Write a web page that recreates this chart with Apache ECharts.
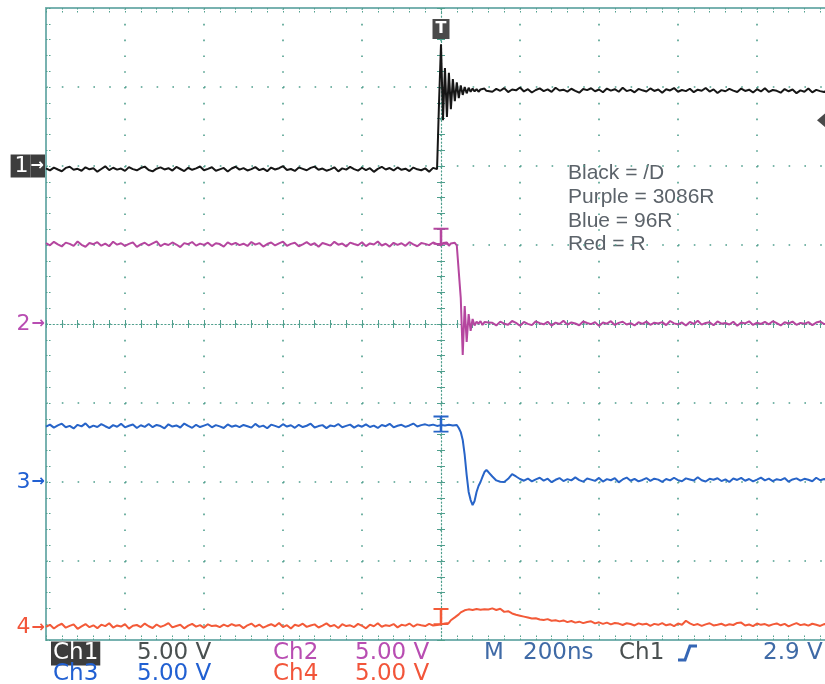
<!DOCTYPE html>
<html>
<head>
<meta charset="utf-8">
<script src="https://cdn.jsdelivr.net/npm/echarts@6/dist/echarts.min.js"></script>
<style>
  html, body { margin: 0; padding: 0; background: #ffffff; overflow: hidden; width: 825px; height: 684px; }
  /* the graticule is 10 divisions wide; the screen shows a little less than that */
  #main { width: 836px; height: 684px; }
</style>
</head>
<body>
<div id="main"></div>
<script>
// ---- Acquisition: sample times in ns (trigger at 0) and channel voltages ----
const timeNs = [
  -1000, -990, -980, -970, -960, -950, -940, -930, -920, -910,
  -900, -890, -880, -870, -860, -850, -840, -830, -820, -810,
  -800, -790, -780, -770, -760, -750, -740, -730, -720, -710,
  -700, -690, -680, -670, -660, -650, -640, -630, -620, -610,
  -600, -590, -580, -570, -560, -550, -540, -530, -520, -510,
  -500, -490, -480, -470, -460, -450, -440, -430, -420, -410,
  -400, -390, -380, -370, -360, -350, -340, -330, -320, -310,
  -300, -290, -280, -270, -260, -250, -240, -230, -220, -210,
  -200, -190, -180, -170, -160, -150, -140, -130, -120, -110,
  -100, -90, -80, -70, -60, -50, -40, -30, -20, -10,
  -5, 0, 5, 10, 15, 20, 25, 30, 35, 40, 45, 50, 55,
  60, 65, 70, 75, 80, 85, 90, 95, 100, 105, 110, 115, 120,
  130, 140, 150, 160, 170, 180, 190, 200, 210, 220,
  230, 240, 250, 260, 270, 280, 290, 300, 310, 320,
  330, 340, 350, 360, 370, 380, 390, 400, 410, 420,
  430, 440, 450, 460, 470, 480, 490, 500, 510, 520,
  530, 540, 550, 560, 570, 580, 590, 600, 610, 620,
  630, 640, 650, 660, 670, 680, 690, 700, 710, 720,
  730, 740, 750, 760, 770, 780, 790, 800, 810, 820,
  830, 840, 850, 860, 870, 880, 890, 900, 910, 920,
  930, 940, 950, 960, 970, 980, 990, 1000
];

// Ch1 (/D)
const ch1Volts = [
  -0.15, -0.28, -0.10, -0.22, -0.33, -0.12, -0.05, -0.24, -0.18, -0.30,
  -0.08, -0.21, -0.14, -0.36, -0.19, -0.02, -0.26, -0.11, -0.23, -0.16,
  -0.31, -0.07, -0.20, -0.27, -0.13, -0.04, -0.25, -0.34, -0.17, -0.09,
  -0.22, -0.14, -0.29, -0.06, -0.19, -0.32, -0.11, -0.24, -0.15, -0.03,
  -0.27, -0.18, -0.08, -0.30, -0.21, -0.12, -0.35, -0.16, -0.05, -0.23,
  -0.13, -0.28, -0.20, -0.07, -0.26, -0.17, -0.33, -0.10, -0.22, -0.14,
  -0.01, -0.25, -0.19, -0.31, -0.09, -0.18, -0.27, -0.12, -0.04, -0.24,
  -0.16, -0.30, -0.21, -0.08, -0.34, -0.15, -0.23, -0.06, -0.20, -0.29,
  -0.11, -0.26, -0.14, -0.37, -0.18, -0.05, -0.22, -0.13, -0.28, -0.09,
  -0.24, -0.17, -0.32, -0.10, -0.21, -0.27, -0.15, -0.36, -0.12, -0.20,
  4.00, 7.70, 2.90, 6.20, 3.10, 5.90, 3.60, 5.50, 4.10, 5.30, 4.30, 5.10, 4.50,
  5.00, 4.60, 4.95, 4.70, 4.90, 4.72, 4.86, 4.70, 4.84, 4.75, 4.90, 4.76, 4.82,
  4.70, 4.88, 4.76, 4.93, 4.68, 4.84, 4.79, 4.97, 4.72, 4.86,
  4.65, 4.81, 4.91, 4.74, 4.85, 4.69, 4.95, 4.78, 4.83, 4.71,
  4.89, 4.76, 4.64, 4.87, 4.80, 4.92, 4.73, 4.84, 4.67, 4.90,
  4.77, 4.86, 4.70, 4.95, 4.74, 4.82, 4.66, 4.88, 4.79, 4.72,
  4.91, 4.75, 4.84, 4.63, 4.86, 4.78, 4.93, 4.70, 4.81, 4.74,
  4.89, 4.67, 4.83, 4.76, 4.94, 4.71, 4.85, 4.62, 4.80, 4.73,
  4.88, 4.77, 4.68, 4.90, 4.75, 4.83, 4.65, 4.86, 4.72, 4.92,
  4.69, 4.81, 4.76, 4.64, 4.87, 4.73, 4.84, 4.61, 4.79, 4.70,
  4.91, 4.66, 4.82, 4.74, 4.68, 4.85, 4.72, 4.79
];

// Ch2 (3086R)
const ch2Volts = [
  5.12, 4.98, 5.20, 5.04, 4.91, 5.15, 5.07, 4.94, 5.22, 5.01,
  4.89, 5.13, 5.05, 5.18, 4.96, 5.09, 4.92, 5.21, 5.02, 5.11,
  4.95, 5.07, 5.17, 4.88, 5.04, 5.14, 4.97, 5.10, 5.23, 4.93,
  5.08, 5.00, 5.16, 5.03, 4.87, 5.12, 5.05, 5.19, 4.96, 5.09,
  5.01, 5.15, 4.93, 5.11, 5.06, 4.90, 5.17, 5.03, 5.13, 4.99,
  5.08, 4.94, 5.19, 5.02, 5.12, 4.90, 5.06, 5.16, 4.97, 5.10,
  5.21, 4.95, 5.07, 5.14, 4.92, 5.04, 5.18, 5.00, 5.11, 4.89,
  5.13, 5.05, 4.96, 5.20, 5.02, 5.09, 4.91, 5.15, 5.06, 4.98,
  5.17, 4.93, 5.10, 5.03, 5.22, 4.97, 5.08, 4.90, 5.14, 5.01,
  5.11, 4.95, 5.18, 5.04, 4.92, 5.12, 5.07, 4.99, 5.16, 5.05,
  5.15, 4.98, 5.12, 5.00, 5.16, 4.95, 5.10, 5.04, 5.14, 4.97, 5.08, 1.65, -1.96,
  1.14, -1.14, 0.63, -0.44, 0.32, -0.10, 0.15, 0.02, 0.18, -0.06, 0.12, 0.00, 0.10,
  0.08, -0.09, 0.15, 0.02, -0.05, 0.19, 0.07, -0.11, 0.13, 0.01,
  -0.07, 0.17, 0.05, -0.02, 0.14, -0.10, 0.09, 0.00, 0.21, -0.04,
  0.10, 0.03, -0.08, 0.16, 0.06, -0.01, 0.12, -0.12, 0.09, 0.02,
  0.18, -0.06, 0.07, 0.14, -0.03, 0.05, -0.09, 0.11, 0.01, 0.15,
  -0.05, 0.08, 0.03, 0.12, -0.07, 0.19, 0.04, -0.02, 0.10, -0.10,
  0.13, 0.00, 0.20, -0.04, 0.07, 0.11, -0.08, 0.16, 0.02, 0.06,
  -0.03, 0.14, -0.11, 0.09, 0.04, 0.17, -0.06, 0.08, 0.00, 0.13,
  -0.02, 0.18, 0.05, -0.09, 0.11, 0.03, 0.15, -0.05, 0.07, 0.01,
  0.12, -0.07, 0.09, 0.16, -0.01, 0.06, 0.10, 0.03
];

// Ch3 (96R)
const ch3Volts = [
  3.50, 3.63, 3.44, 3.58, 3.69, 3.47, 3.55, 3.39, 3.62, 3.52,
  3.71, 3.45, 3.57, 3.48, 3.66, 3.53, 3.41, 3.60, 3.50, 3.68,
  3.46, 3.56, 3.64, 3.42, 3.59, 3.49, 3.67, 3.47, 3.61, 3.54,
  3.40, 3.65, 3.51, 3.58, 3.45, 3.70, 3.55, 3.43, 3.62, 3.48,
  3.57, 3.66, 3.46, 3.60, 3.52, 3.42, 3.64, 3.50, 3.58, 3.47,
  3.61, 3.53, 3.44, 3.68, 3.49, 3.57, 3.40, 3.63, 3.55, 3.46,
  3.66, 3.51, 3.59, 3.43, 3.62, 3.48, 3.56, 3.69, 3.45, 3.54,
  3.60, 3.41, 3.58, 3.52, 3.67, 3.47, 3.55, 3.63, 3.44, 3.59,
  3.50, 3.65, 3.48, 3.57, 3.42, 3.61, 3.53, 3.68, 3.46, 3.56,
  3.62, 3.49, 3.58, 3.70, 3.51, 3.60, 3.65, 3.57, 3.63, 3.55,
  3.45, 3.60, 3.50, 3.58, 3.48, 3.62, 3.66, 3.57, 3.68, 3.61, 3.42, 3.16, 2.66,
  1.71, 0.44, -0.63, -1.14, -1.46, -1.20, -0.63, -0.25, 0.00, 0.32, 0.63, 0.76, 0.63,
  0.35, 0.10, 0.02, 0.00, 0.20, 0.50, 0.35, 0.19, 0.08, 0.22,
  0.04, 0.17, 0.27, 0.09, 0.21, -0.01, 0.14, 0.25, 0.06, 0.18,
  0.10, 0.29, 0.12, 0.02, 0.22, 0.15, 0.07, 0.26, 0.03, 0.18,
  0.11, 0.24, -0.02, 0.16, 0.28, 0.08, 0.20, 0.04, 0.13, 0.25,
  0.07, 0.21, 0.15, 0.01, 0.19, 0.10, 0.27, 0.12, 0.05, 0.23,
  0.16, 0.09, 0.30, 0.11, 0.03, 0.20, 0.14, 0.24, 0.06, 0.17,
  0.00, 0.22, 0.13, 0.26, 0.08, 0.19, 0.04, 0.15, 0.28, 0.10,
  0.21, 0.06, 0.18, 0.12, 0.25, 0.02, 0.16, 0.23, 0.09, 0.20,
  0.14, 0.05, 0.27, 0.11, 0.19, 0.08, 0.22, 0.13
];

// Ch4 (R)
const ch4Volts = [
  0.04, 0.16, -0.07, 0.11, 0.23, -0.02, 0.09, 0.19, -0.09, 0.06,
  0.21, 0.01, 0.13, -0.05, 0.17, 0.08, 0.26, -0.01, 0.12, 0.05,
  0.20, -0.08, 0.10, 0.15, 0.02, 0.24, 0.07, -0.04, 0.18, 0.03,
  0.13, 0.27, 0.00, 0.09, 0.16, -0.06, 0.11, 0.22, 0.05, 0.14,
  -0.03, 0.19, 0.08, 0.12, 0.01, 0.17, 0.06, 0.21, 0.10, 0.15,
  -0.05, 0.13, 0.24, 0.04, 0.18, -0.02, 0.10, 0.20, 0.07, 0.28,
  0.02, 0.14, -0.07, 0.16, 0.09, 0.23, 0.03, 0.12, 0.19, -0.01,
  0.11, 0.25, 0.06, 0.15, -0.04, 0.20, 0.08, 0.13, 0.02, 0.22,
  0.10, -0.06, 0.17, 0.07, 0.26, 0.04, 0.14, 0.09, 0.21, 0.00,
  0.16, 0.11, 0.24, 0.05, 0.19, 0.13, 0.08, 0.22, 0.12, 0.15,
  0.06, 0.18, 0.12, 0.25, 0.32, 0.28, 0.45, 0.52, 0.63, 0.70, 0.82, 0.95, 0.90,
  1.08, 1.20, 1.14, 1.24, 1.10, 1.22, 1.16, 1.27, 1.12, 1.20, 1.15, 1.24, 1.13,
  1.20, 1.10, 1.18, 0.98, 1.02, 0.88, 0.80, 0.74, 0.68, 0.62,
  0.56, 0.58, 0.50, 0.47, 0.52, 0.42, 0.45, 0.38, 0.44, 0.33,
  0.40, 0.30, 0.36, 0.27, 0.34, 0.38, 0.25, 0.32, 0.22, 0.30,
  0.19, 0.28, 0.24, 0.15, 0.26, 0.21, 0.12, 0.25, 0.18, 0.23,
  0.10, 0.22, 0.16, 0.27, 0.13, 0.20, 0.08, 0.24, 0.17, 0.42,
  0.25, 0.14, 0.21, 0.09, 0.19, 0.26, 0.12, 0.17, 0.23, 0.11,
  0.20, 0.15, 0.28, 0.30, 0.12, 0.18, 0.08, 0.24, 0.16, 0.21,
  0.10, 0.19, 0.25, 0.13, 0.22, 0.06, 0.17, 0.27, 0.14, 0.20,
  0.11, 0.23, 0.16, 0.09, 0.21, 0.18, 0.13, 0.24
];

// ---- Scope settings ----
const voltsPerDiv = 5;
const nsPerDiv = 200;
const timeMinNs = -1000;
const timeMaxNs = 1000;
const channelPositionDiv = [2, 0, -2, -3.84];   // ground reference of each channel, in divisions from center
const triggerLevelV = 2.9;
const triggerTimeNs = 0;
const channelLabels = ['Ch1', 'Ch2', 'Ch3', 'Ch4'];
const legendLines = ['Black = /D', 'Purple = 3086R', 'Blue = 96R', 'Red = R'];

// ---- Styling ----
const traceColors = ['#161616', '#b5469f', '#2764c8', '#f35a38'];
const labelColors = ['#ffffff', '#b84db2', '#2160d2', '#f2553a'];
const frameColor = '#78b2b0';
const dotColor = '#4f9f8d';
const markerDark = '#3d3d3d';
const statusBlue = '#3f6aa6';
const statusGray = '#4a5050';

const chart = echarts.init(document.getElementById('main'), null, { renderer: 'canvas' });

const allVolts = [ch1Volts, ch2Volts, ch3Volts, ch4Volts];
const n = Math.min(timeNs.length, ...allVolts.map(a => a.length));

function plotValue(ch, v) { return channelPositionDiv[ch] + v / voltsPerDiv; }
function tracePoints(ch) {
  const out = [];
  for (let i = 0; i < n; i++) out.push([timeNs[i], plotValue(ch, allVolts[ch][i])]);
  return out;
}
function valueAt(ch, t) { return plotValue(ch, allVolts[ch][timeNs.indexOf(t)]); }

const timeAxisBase = { type: 'value', min: timeMinNs, max: timeMaxNs, interval: nsPerDiv };
const divAxisBase = { type: 'value', min: -4, max: 4, interval: 1 };
const noLabel = { show: false };
const frameTick = { show: true, inside: true, length: 5, lineStyle: { color: dotColor, width: 1, type: [1.5, 1.5] } };
const frameMinor = { show: true, splitNumber: 5, length: 5, lineStyle: { color: dotColor, width: 1, type: [1.5, 1.5] } };
const centerTick = { show: true, length: 4, lineStyle: { color: dotColor, width: 1 } };
const centerMinor = { show: true, splitNumber: 5, length: 4, lineStyle: { color: dotColor, width: 1 } };
const centerLine = { show: true, onZero: true, onZeroAxisIndex: 0, lineStyle: { color: dotColor, width: 1.2, type: [1.2, 2.4] } };
const gridDots = { show: true, lineStyle: { color: dotColor, width: 1.6, type: [1.6, 14.2] } };

// channel ground markers at the left edge
const chRich = {};
for (let i = 0; i < 4; i++) {
  const boxed = i === 0;
  chRich['n' + (i + 1)] = {
    color: boxed ? '#ffffff' : labelColors[i], fontSize: 22, fontFamily: 'DejaVu Sans', height: 23,
    backgroundColor: boxed ? markerDark : 'transparent', padding: boxed ? [0, 2, 0, 4] : [0, 1, 0, 0]
  };
  chRich['a' + (i + 1)] = {
    color: boxed ? '#ffffff' : labelColors[i], fontSize: 16, fontWeight: 'bold', fontFamily: 'DejaVu Sans', height: 23,
    backgroundColor: boxed ? markerDark : 'transparent', padding: boxed ? [0, 1, 0, 0] : [0, 0, 0, 0]
  };
}

const iBeam = 'path://M0,0H12V2H7V16H12V18H0V16H5V2H0Z';
const beamOffsets = [0, -9, -1, -8];

const series = [0, 1, 2, 3].map(ch => {
  const marks = [];
  if (ch === 0) {
    // trigger level indicator on the right edge of the screen
    marks.push({
      coord: [timeMaxNs, plotValue(0, triggerLevelV)],
      symbol: 'triangle', symbolRotate: 90, symbolSize: [17, 10], symbolOffset: [-14, 0],
      itemStyle: { color: '#4a4a4a' }
    });
  } else {
    marks.push({
      coord: [triggerTimeNs, valueAt(ch, triggerTimeNs)],
      symbol: iBeam, symbolSize: [15, 17], symbolOffset: [0, beamOffsets[ch]],
      itemStyle: { color: traceColors[ch] }
    });
  }
  return {
    name: channelLabels[ch],
    type: 'line',
    xAxisIndex: 0,
    yAxisIndex: 0,
    data: tracePoints(ch),
    showSymbol: false,
    symbol: 'none',
    smooth: false,
    clip: true,
    animation: false,
    z: 10,
    lineStyle: { color: traceColors[ch], width: 2 },
    markPoint: { silent: true, animation: false, label: { show: false }, data: marks }
  };
});

const statusRow = [653.5, 674.5];
const statusItems = [
  { text: channelLabels[0], x: 53, row: 0, color: '#ffffff', bg: markerDark },
  { text: voltsPerDiv.toFixed(2) + ' V', x: 137, row: 0, color: statusGray },
  { text: channelLabels[1], x: 273, row: 0, color: labelColors[1] },
  { text: voltsPerDiv.toFixed(2) + ' V', x: 355, row: 0, color: labelColors[1] },
  { text: 'M', x: 484, row: 0, color: statusBlue },
  { text: nsPerDiv + 'ns', x: 523, row: 0, color: statusBlue },
  { text: channelLabels[0], x: 619, row: 0, color: statusGray },
  { text: triggerLevelV.toFixed(1) + ' V', x: 763, row: 0, color: statusBlue },
  { text: channelLabels[2], x: 53, row: 1, color: labelColors[2] },
  { text: voltsPerDiv.toFixed(2) + ' V', x: 137, row: 1, color: labelColors[2] },
  { text: channelLabels[3], x: 273, row: 1, color: labelColors[3] },
  { text: voltsPerDiv.toFixed(2) + ' V', x: 355, row: 1, color: labelColors[3] }
];

const graphics = [];
statusItems.forEach(it => {
  const style = {
    text: it.text, fill: it.color, fontSize: 23, fontFamily: 'DejaVu Sans',
    textAlign: 'left', align: 'left', textVerticalAlign: 'middle', verticalAlign: 'middle'
  };
  if (it.bg) { style.backgroundColor = it.bg; style.padding = [1, 2, 0, 2]; }
  graphics.push({ type: 'text', x: it.bg ? it.x - 2 : it.x, y: statusRow[it.row], silent: true, style });
});
// rising-edge trigger slope symbol
graphics.push({
  type: 'polyline', silent: true,
  shape: { points: [[678, 660], [685, 660], [690, 646], [697, 646]] },
  style: { stroke: '#3566b5', lineWidth: 3, fill: null }
});
legendLines.forEach((line, i) => {
  graphics.push({
    type: 'text', x: 568, y: 173.5 + i * 23.7, silent: true,
    style: {
      text: line, fill: '#5c636a', fontSize: 21, fontFamily: 'Liberation Sans',
      textAlign: 'left', align: 'left', textVerticalAlign: 'middle', verticalAlign: 'middle'
    }
  });
});

const option = {
  backgroundColor: '#ffffff',
  animation: false,
  grid: { left: 46, top: 8, right: 0, height: 632, containLabel: false },
  xAxis: [
    Object.assign({}, timeAxisBase, {
      position: 'bottom',
      axisLine: { show: true, onZero: false, lineStyle: { color: frameColor, width: 2 } },
      axisTick: frameTick, minorTick: frameMinor, axisLabel: noLabel, splitLine: gridDots
    }),
    Object.assign({}, timeAxisBase, {
      position: 'top',
      axisLine: { show: true, onZero: false, lineStyle: { color: frameColor, width: 2 } },
      axisTick: frameTick, minorTick: frameMinor, splitLine: { show: false },
      axisLabel: {
        show: true, inside: true, margin: 11, customValues: [triggerTimeNs],
        formatter: () => '{t|T}',
        rich: { t: { color: '#ffffff', backgroundColor: '#4a4a4a', width: 17, height: 20, align: 'center',
                     fontSize: 16, fontWeight: 'bold', fontFamily: 'DejaVu Sans' } }
      }
    }),
    Object.assign({}, timeAxisBase, {
      position: 'bottom', axisLine: centerLine,
      axisTick: centerTick, minorTick: centerMinor, axisLabel: noLabel, splitLine: { show: false }
    }),
    Object.assign({}, timeAxisBase, {
      position: 'top', axisLine: Object.assign({}, centerLine, { show: false }),
      axisTick: centerTick, minorTick: centerMinor, axisLabel: noLabel, splitLine: { show: false }
    })
  ],
  yAxis: [
    Object.assign({}, divAxisBase, {
      position: 'left',
      axisLine: { show: true, onZero: false, lineStyle: { color: frameColor, width: 2 } },
      axisTick: frameTick, minorTick: frameMinor, splitLine: gridDots,
      axisLabel: {
        show: true, margin: 1, customValues: channelPositionDiv.slice(),
        formatter: (v) => {
          let k = 0, best = Infinity;
          channelPositionDiv.forEach((p, i) => { const d = Math.abs(p - v); if (d < best) { best = d; k = i; } });
          return '{n' + (k + 1) + '|' + (k + 1) + '}{a' + (k + 1) + '|→}';
        },
        rich: chRich
      }
    }),
    Object.assign({}, divAxisBase, {
      position: 'left', axisLine: centerLine,
      axisTick: centerTick, minorTick: centerMinor, axisLabel: noLabel, splitLine: { show: false }
    }),
    Object.assign({}, divAxisBase, {
      position: 'right', axisLine: Object.assign({}, centerLine, { show: false }),
      axisTick: centerTick, minorTick: centerMinor, axisLabel: noLabel, splitLine: { show: false }
    })
  ],
  graphic: graphics,
  series: series
};

chart.setOption(option);
</script>
</body>
</html>
